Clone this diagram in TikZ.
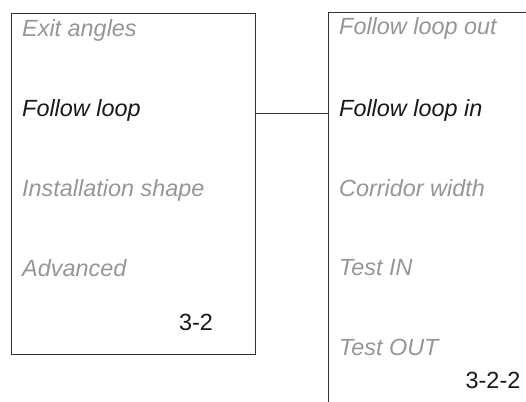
\documentclass[tikz,border=0pt]{standalone}
\usepackage{fontspec}
\setmainfont{Liberation Sans}
\usepackage{xcolor}
\usetikzlibrary{positioning}

\definecolor{dimgrey}{RGB}{150,150,152}
\definecolor{framegrey}{RGB}{50,50,50}

\begin{document}
\begin{tikzpicture}[
  x=1bp, y=-1bp,
  frame/.style={draw=framegrey, line width=0.9bp, minimum width=244bp, minimum height=341bp, inner sep=0pt},
  item/.style={anchor=west, inner sep=0pt, font=\fontsize{23.5}{26}\selectfont\itshape, text=dimgrey},
  active/.style={item, text=black!90},
  code/.style={inner sep=0pt, font=\fontsize{23.5}{26}\selectfont, text=black!90},
  link/.style={draw=framegrey, line width=0.9bp}
]
\useasboundingbox (0,0) rectangle (526,401);
\clip (0,0) rectangle (526,401);
% left menu
\node[frame, anchor=north west] (menu) at (11,13) {};
\node[item] (exit) at (22,30) {Exit angles};
\node[active] (follow) at (22,110) {Follow loop};
\node[item] (shape) at (22,190) {Installation shape};
\node[item] (adv) at (22,268) {Advanced};
\node[code] (num) at (196,322) {3-2};
% right menu (cut off by the page)
\node[frame, anchor=north west, minimum width=260bp, minimum height=420bp] (sub) at (328,12) {};
\node[item] (out) at (339,28) {Follow loop out};
\node[active] (in) at (339,110) {Follow loop in};
\node[item] (width) at (339,188) {Corridor width};
\node[item] (tin) at (339,268) {Test IN};
\node[item] (tout) at (339,347) {Test OUT};
\node[code] (subnum) at (493,380) {3-2-2};
\draw[link] (menu.east |- 0,113) -- (sub.west |- 0,113);
\end{tikzpicture}
\end{document}
